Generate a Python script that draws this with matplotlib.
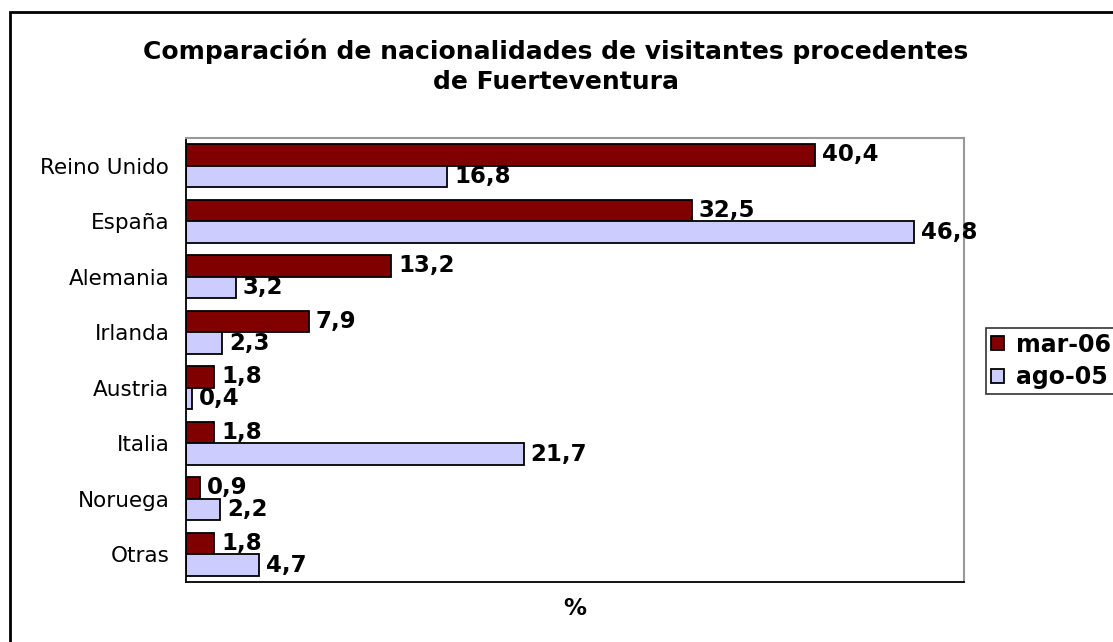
import numpy as np
import matplotlib.pyplot as plt
from matplotlib.patches import Rectangle

# === Data ===
paises = ["Reino Unido", "España", "Alemania", "Irlanda", "Austria", "Italia", "Noruega", "Otras"]
mar06 = [40.4, 32.5, 13.2, 7.9, 1.8, 1.8, 0.9, 1.8]
ago05 = [16.8, 46.8, 3.2, 2.3, 0.4, 21.7, 2.2, 4.7]

W, H = 1113, 642
fig = plt.figure(figsize=(W / 100, H / 100), dpi=100)
ax = fig.add_axes([186 / W, 1 - 582 / H, (964 - 186) / W, (582 - 138) / H])

y = np.arange(len(paises))
h = 0.39
b1 = ax.barh(y - h / 2, mar06, height=h, color="#800000", edgecolor="black", linewidth=1.3, label="mar-06")
b2 = ax.barh(y + h / 2, ago05, height=h, color="#CCCCFF", edgecolor="black", linewidth=1.3, label="ago-05")

# value labels with comma decimal
for bars, vals in [(b1, mar06), (b2, ago05)]:
    for r, v in zip(bars, vals):
        ax.text(r.get_width() + 0.45, r.get_y() + r.get_height() / 2, f"{v:.1f}".replace(".", ","),
                va="center", ha="left", fontsize=16.5, fontweight="bold")

ax.set_xlim(0, 50)
ax.set_ylim(len(paises) - 0.5, -0.5)
ax.set_yticks(y)
ax.set_yticklabels(paises, fontsize=15.5)
ax.tick_params(axis="y", length=0, pad=12)
ax.set_xticks([])
ax.set_xlabel("%", fontsize=16.5, fontweight="bold", labelpad=11)

for s in ["top", "right"]:
    ax.spines[s].set_color("#999999")
    ax.spines[s].set_linewidth(1.5)
for s in ["left", "bottom"]:
    ax.spines[s].set_color("black")
    ax.spines[s].set_linewidth(1.3)

fig.text(556 / W, 1 - 66 / H, "Comparación de nacionalidades de visitantes procedentes\nde Fuerteventura",
         ha="center", va="center", fontsize=18, fontweight="bold", linespacing=1.3)

leg = fig.legend(handles=[b1, b2], loc="upper left", bbox_to_anchor=(986 / W, 1 - 328 / H),
                 frameon=True, fancybox=False, edgecolor="black", prop={"size": 17, "weight": "bold"},
                 handlelength=0.55, handleheight=0.55, handletextpad=0.5, borderpad=0.2,
                 labelspacing=0.35, borderaxespad=0)
leg.get_frame().set_linewidth(1.2)

# outer chart border (runs off right and bottom edges)
fig.patches.append(Rectangle((10 / W, -0.1), 1.2, 1.1 - 12 / H, transform=fig.transFigure,
                             fill=False, edgecolor="black", linewidth=2))

fig.savefig("out.png", dpi=100)
